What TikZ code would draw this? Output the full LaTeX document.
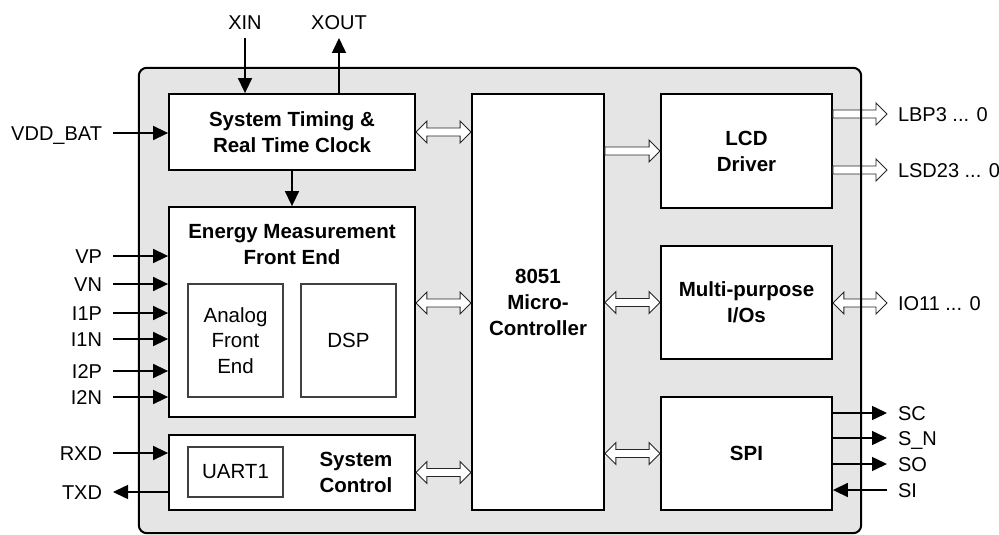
\documentclass[tikz,border=0pt]{standalone}
\usepackage{fontspec}
\setmainfont{Liberation Sans}
\usetikzlibrary{arrows.meta,calc}
\newcommand{\HL}{11pt}
\newcommand{\HW}{11pt}
\newcommand{\SW}{4pt}
\tikzset{
  chip/.style={fill=gray!20, draw=none, rounded corners=8pt, inner sep=0pt, minimum width=722pt, minimum height=465pt},
  chipborder/.style={draw=black, line width=2pt, rounded corners=8pt},
  box/.style={draw=black, line width=1.8pt, fill=white, inner sep=0pt, align=center, font=\bfseries\fontsize{20.5}{26}\selectfont},
  title/.style={inner sep=0pt, align=center, font=\bfseries\fontsize{20.5}{26}\selectfont},
  subbox/.style={draw=black!75, line width=1.2pt, fill=white, inner sep=0pt, align=center, font=\fontsize{20.5}{25.5}\selectfont},
  lbl/.style={inner sep=0pt, outer sep=11pt, font=\fontsize{20}{24}\selectfont, text height=14.3pt, text depth=0pt},
  sig/.style={line width=1.5pt, -{Triangle[length=15pt,width=14pt]}},
  hollow/.style={draw=black!85, line width=0.9pt, fill=white, line join=miter},
}
\newcommand{\DblArrow}[2]{%
  \draw[hollow] let \p1=(#1), \p2=(#2) in
    (\x1,\y1) -- (\x1+\HL,\y1+\HW) -- (\x1+\HL,\y1+\SW) -- (\x2-\HL,\y1+\SW) --
    (\x2-\HL,\y1+\HW) -- (\x2,\y1) -- (\x2-\HL,\y1-\HW) -- (\x2-\HL,\y1-\SW) --
    (\x1+\HL,\y1-\SW) -- (\x1+\HL,\y1-\HW) -- cycle;}
\newcommand{\SglArrow}[2]{%
  \draw[hollow] let \p1=(#1), \p2=(#2) in
    (\x1,\y1+\SW) -- (\x2-\HL,\y1+\SW) -- (\x2-\HL,\y1+\HW) -- (\x2,\y1) --
    (\x2-\HL,\y1-\HW) -- (\x2-\HL,\y1-\SW) -- (\x1,\y1-\SW) -- cycle;}
\begin{document}
\begin{tikzpicture}[x=1pt,y=-1pt]
\useasboundingbox (0,0) rectangle (999,535);
% chip background
\node[chip] (chip) at (500,300.5) {};
% blocks
\node[box, minimum width=246pt, minimum height=76pt] (st) at (292,132) {System Timing \&\\Real Time Clock};
\node[box, minimum width=246pt, minimum height=210pt] (em) at (292,312) {};
\node[title] (emt) at (292,244.5) {Energy Measurement\\Front End};
\node[subbox, minimum width=95pt, minimum height=113pt] (afe) at (235.5,340.5) {Analog\\Front\\End};
\node[subbox, minimum width=95pt, minimum height=113pt] (dsp) at (348.5,340.5) {DSP};
\node[box, minimum width=246pt, minimum height=75pt] (sc) at (292,472.5) {};
\node[subbox, minimum width=95pt, minimum height=50pt] (uart) at (235.5,472) {UART1};
\node[title] (sct) at (356,472) {System\\Control};
\node[box, minimum width=132pt, minimum height=416pt] (mcu) at (538,302) {8051\\Micro-\\Controller};
\node[box, minimum width=171pt, minimum height=114pt] (lcd) at (746.5,151) {LCD\\Driver};
\node[box, minimum width=171pt, minimum height=113pt] (mpio) at (746.5,302.5) {Multi-purpose\\I/Os};
\node[box, minimum width=171pt, minimum height=113pt] (spi) at (746.5,453.5) {SPI};
% labels
\node[lbl, anchor=south, outer sep=8pt] (xin) at (245,38) {XIN};
\node[lbl, anchor=south, outer sep=8pt] (xout) at (339,38) {XOUT};
\node[lbl, anchor=east] (vdd) at (113,133) {VDD\_BAT};
\node[lbl, anchor=east] (vp) at (113,256) {VP};
\node[lbl, anchor=east] (vn) at (113,284) {VN};
\node[lbl, anchor=east] (iop) at (113,313) {I1P};
\node[lbl, anchor=east] (ion) at (113,339) {I1N};
\node[lbl, anchor=east] (itp) at (113,371) {I2P};
\node[lbl, anchor=east] (itn) at (113,397) {I2N};
\node[lbl, anchor=east] (rxd) at (113,453) {RXD};
\node[lbl, anchor=east] (txd) at (113,492) {TXD};
\node[lbl, anchor=west] (lbp) at (887,114) {LBP3 ... 0};
\node[lbl, anchor=west] (lsd) at (887,170) {LSD23 ... 0};
\node[lbl, anchor=west] (io) at (887,303) {IO11 ... 0};
\node[lbl, anchor=west] (sclk) at (887,413) {SC};
\node[lbl, anchor=west] (sn) at (887,438) {S\_N};
\node[lbl, anchor=west] (so) at (887,464) {SO};
\node[lbl, anchor=west] (si) at (887,490) {SI};
% signal connectors
\draw[sig] (xin.south) -- (xin.south |- st.north);
\draw[sig] (xout.south |- st.north) -- (xout.south);
\draw[sig] (vdd.east) -- (vdd.east -| st.west);
\draw[sig] (st.south) -- (em.north);
\foreach \n in {vp,vn,iop,ion,itp,itn}{\draw[sig] (\n.east) -- (\n.east -| em.west);}
\draw[sig] (rxd.east) -- (rxd.east -| sc.west);
\draw[sig] (txd.east -| sc.west) -- (txd.east);
\foreach \n in {sclk,sn,so}{\draw[sig] (\n.west -| spi.east) -- (\n.west);}
\draw[sig] (si.west) -- (si.west -| spi.east);
% bus connectors
\coordinate (y303) at (0,303);
\DblArrow{st.east}{st.east -| mcu.west}
\DblArrow{em.east |- y303}{mcu.west |- y303}
\DblArrow{sc.east}{sc.east -| mcu.west}
\SglArrow{lcd.west -| mcu.east}{lcd.west}
\DblArrow{mpio.west -| mcu.east}{mpio.west}
\DblArrow{spi.west -| mcu.east}{spi.west}
\SglArrow{lbp.west -| lcd.east}{lbp.west}
\SglArrow{lsd.west -| lcd.east}{lsd.west}
\DblArrow{io.west -| mpio.east}{io.west}
% chip border on top
\draw[chipborder] (chip.north west) rectangle (chip.south east);
\end{tikzpicture}
\end{document}
